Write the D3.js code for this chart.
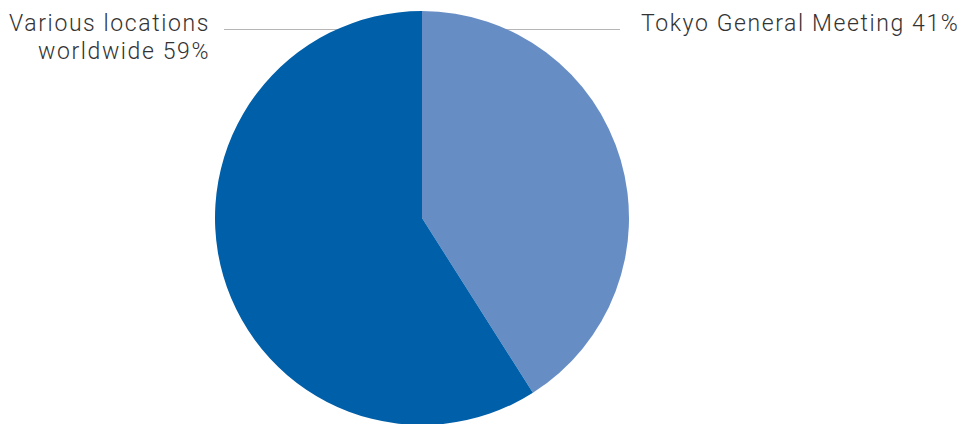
<!DOCTYPE html>
<html>
<head>
<meta charset="utf-8">
<script src="https://cdn.jsdelivr.net/npm/d3@7"></script>
<style>
  body { margin: 0; background: #fff; }
  svg { display: block; }
  text { font-family: Roboto, "Liberation Sans", Arial, sans-serif; font-weight: 300; fill: #333; letter-spacing: 1.6px; }
</style>
</head>
<body>
<svg width="964" height="424"></svg>
<script>
const labels = ["Tokyo General Meeting", "Various locations worldwide"];
const shares = [41, 59];
const colors = ["#678dc5", "#005fa9"];

const svg = d3.select("svg");

const cx = 422, cy = 218, r = 207;

const pie = d3.pie().sort(null).value(d => d);
const arc = d3.arc().innerRadius(0).outerRadius(r);

const slices = pie(shares);

// leader lines (drawn first, pie covers the inner end)
const lineY = 29.5;
svg.append("line")
    .attr("x1", 224).attr("x2", cx)
    .attr("y1", lineY).attr("y2", lineY)
    .attr("stroke", "#b5b5b5").attr("stroke-width", 1);
svg.append("line")
    .attr("x1", cx).attr("x2", 620)
    .attr("y1", lineY).attr("y2", lineY)
    .attr("stroke", "#b5b5b5").attr("stroke-width", 1);

const g = svg.append("g").attr("transform", `translate(${cx},${cy})`);

g.selectAll("path")
  .data(slices)
  .enter()
  .append("path")
  .attr("d", arc)
  .attr("fill", (d, i) => colors[i]);

// labels
svg.append("text")
    .attr("x", 641).attr("y", 31)
    .style("font-size", "23px")
    .text(`${labels[0]} ${shares[0]}%`);

const left = svg.append("text")
    .attr("text-anchor", "end")
    .style("font-size", "23px");
left.append("tspan").attr("x", 210).attr("y", 31).text("Various locations");
left.append("tspan").attr("x", 210).attr("y", 59).text(`worldwide ${shares[1]}%`);
</script>
</body>
</html>
